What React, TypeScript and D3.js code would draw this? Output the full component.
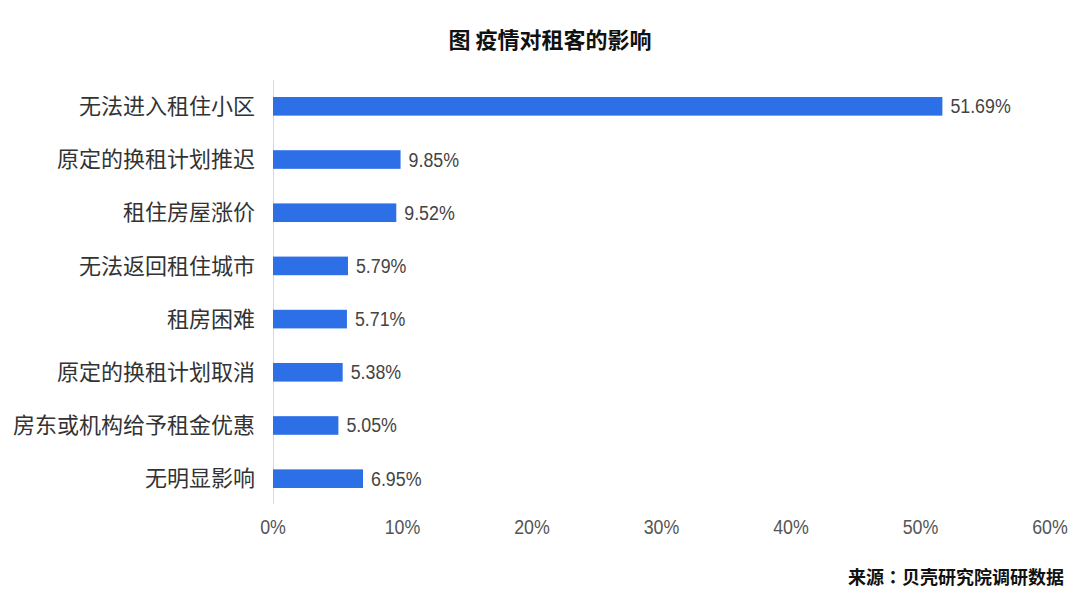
import React from "react";
import * as d3 from "d3";

const categories = [
  "无法进入租住小区",
  "原定的换租计划推迟",
  "租住房屋涨价",
  "无法返回租住城市",
  "租房困难",
  "原定的换租计划取消",
  "房东或机构给予租金优惠",
  "无明显影响",
];
const values = [51.69, 9.85, 9.52, 5.79, 5.71, 5.38, 5.05, 6.95];
const tickValues = [0, 10, 20, 30, 40, 50, 60];
const title = "图 疫情对租客的影响";
const sourceLead = "来源";
const sourceRest = "贝壳研究院调研数据";

const W = 1080;
const H = 608;
const CJK = "'Noto Sans CJK SC', 'Noto Sans', sans-serif";
const CJK_TC = "'Noto Sans CJK TC', 'Noto Sans CJK SC', sans-serif";
const NUM = "'Liberation Sans', Arial, sans-serif";
const SX = 0.89;

export default function App() {
  const x = d3.scaleLinear().domain([0, 60]).range([273, 1050]);
  const y = d3
    .scaleBand<string>()
    .domain(categories)
    .range([80, 505])
    .paddingInner(0.65)
    .paddingOuter(0.32);
  const bw = y.bandwidth();
  return (
    <svg
      width={W}
      height={H}
      style={{ position: "absolute", left: 0, top: 0, background: "#fff" }}
    >
      <rect x={0} y={0} width={W} height={H} fill="#fff" />
      <text
        x={550}
        y={48}
        textAnchor="middle"
        fontFamily={CJK}
        fontWeight={700}
        fontSize={22}
        fill="#111"
      >
        {title}
      </text>
      <line x1={273.5} x2={273.5} y1={80} y2={504} stroke="#d9d9d9" strokeWidth={1} />
      {categories.map((c, i) => {
        const yc = (y(c) as number) + bw / 2;
        const lx = x(values[i]) + 8;
        return (
          <g key={c}>
            <rect
              x={x(0)}
              y={y(c)}
              width={x(values[i]) - x(0)}
              height={bw}
              fill="#2d6fe6"
            />
            <text
              x={255}
              y={yc}
              dy="0.35em"
              textAnchor="end"
              fontFamily={CJK}
              fontSize={22}
              fill="#333"
            >
              {c}
            </text>
            <g transform={`translate(${lx},${yc}) scale(${SX},1)`}>
              <text x={0} y={0} dy="0.35em" fontFamily={NUM} fontSize={20} fill="#444">
                {values[i].toFixed(2)}%
              </text>
            </g>
          </g>
        );
      })}
      {tickValues.map((t) => (
        <g key={t} transform={`translate(${x(t)},527) scale(${SX},1)`}>
          <text
            x={0}
            y={0}
            dy="0.35em"
            textAnchor="middle"
            fontFamily={NUM}
            fontSize={20}
            fill="#555"
          >
            {t}%
          </text>
        </g>
      ))}
      <text
        x={1064}
        y={578}
        dy="0.35em"
        textAnchor="end"
        fontFamily={CJK}
        fontWeight={700}
        fontSize={18}
        fill="#111"
      >
        {sourceLead}
        <tspan fontFamily={CJK_TC}>：</tspan>
        {sourceRest}
      </text>
    </svg>
  );
}
